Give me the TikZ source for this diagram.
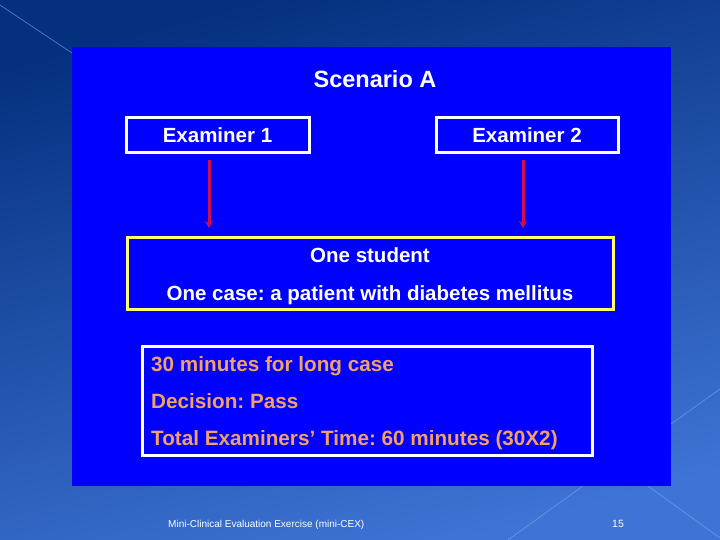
\documentclass[tikz,border=0pt]{standalone}
\usepackage{fontspec}
\setmainfont{Liberation Sans}
\usetikzlibrary{arrows.meta}
\definecolor{bgtop}{HTML}{05307F}
\definecolor{bgbot}{HTML}{3E74D6}
\definecolor{panel}{HTML}{0000FF}
\definecolor{arrowred}{HTML}{CC1050}
\definecolor{boxyellow}{HTML}{FFFF66}
\definecolor{txtorange}{HTML}{F2A064}
\definecolor{deco}{HTML}{7FA6EE}
\tikzset{
  whitebox/.style={draw=white, line width=3pt, fill=panel},
  yellowbox/.style={draw=boxyellow, line width=3pt, fill=panel},
  headtext/.style={text=white, font=\bfseries\fontsize{20.5}{24}\selectfont, inner sep=0pt},
  titletext/.style={text=white, font=\bfseries\fontsize{23.5}{27}\selectfont, inner sep=0pt},
  orangetext/.style={text=txtorange, font=\bfseries\fontsize{20.7}{24}\selectfont, inner sep=0pt, anchor=base west},
  redarrow/.style={draw=arrowred, line width=3pt, -{Stealth[length=7pt,width=8pt]}},
  decoline/.style={draw=deco, line width=0.6pt, opacity=0.7}
}
\frenchspacing
\begin{document}
\begin{tikzpicture}[x=1pt,y=-1pt]
\useasboundingbox (0,0) rectangle (720,540);
\shade[top color=bgtop, bottom color=bgbot, shading angle=15] (0,0) rectangle (720,540);
% decorative lines
\draw[decoline] (0,5) -- (72,53);
\draw[decoline] (583,486) -- (508,540);
\draw[decoline] (671,424) -- (720,389);
\draw[decoline] (648,486) -- (720,538);
% main panel
\fill[panel] (72,47) rectangle (671,486);
\node[titletext, anchor=base] (title) at (375,88) {Scenario A};
% examiner boxes
\draw[whitebox] (126,118) rectangle (309,153);
\node[headtext, anchor=base] (e1) at (217.5,143) {Examiner 1};
\coordinate (e1b) at (209,160);
\draw[whitebox] (436,118) rectangle (618,153);
\node[headtext, anchor=base] (e2) at (527,143) {Examiner 2};
\coordinate (e2b) at (523,160);
% student box
\draw[yellowbox] (127,237) rectangle (613,309);
\coordinate (s1) at (209,228);
\coordinate (s2) at (523,228);
\node[headtext, anchor=base] (st) at (370,262) {One student};
\node[headtext, anchor=base] (case) at (370,300) {One case: a patient with diabetes mellitus};
% arrows
\draw[redarrow] (e1b) -- (s1);
\draw[redarrow] (e2b) -- (s2);
% time box
\draw[whitebox] (142,346) rectangle (592,455);
\node[orangetext] (t1) at (151,371) {30 minutes for long case};
\node[orangetext] (t2) at (151,408) {Decision: Pass};
\node[orangetext] (t3) at (151,445) {Total Examiners’ Time: 60 minutes (30X2)};
% footer
\node[text=white, font=\fontsize{10}{12}\selectfont, anchor=base west, inner sep=0pt] (foot) at (168,527) {Mini-Clinical Evaluation Exercise (mini-CEX)};
\node[text=white, font=\fontsize{10.5}{12}\selectfont, anchor=base west, inner sep=0pt] (num) at (612,527) {15};
\end{tikzpicture}
\end{document}
